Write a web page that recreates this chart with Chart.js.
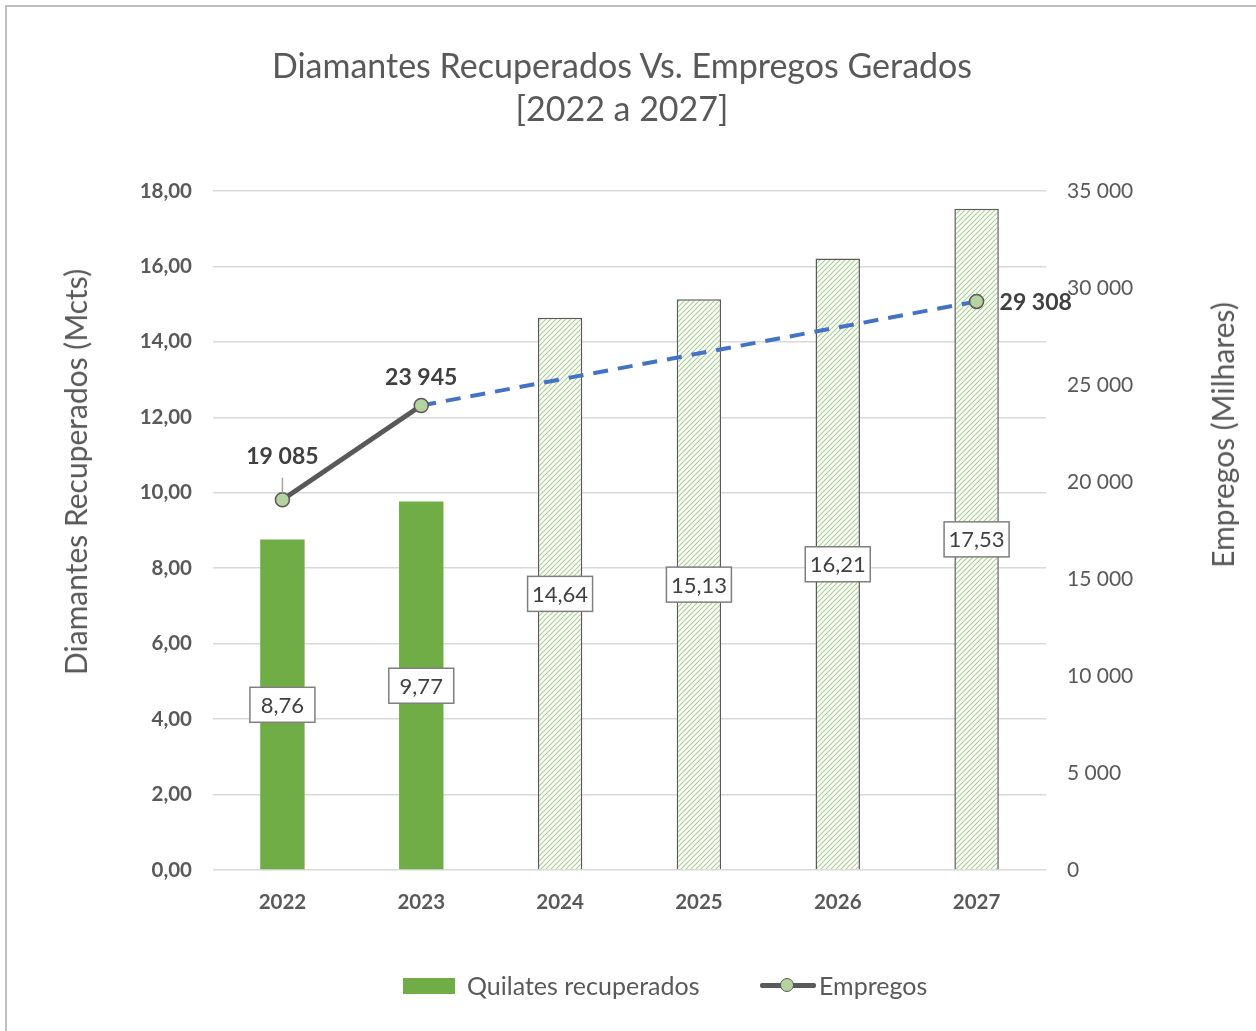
<!DOCTYPE html>
<html>
<head>
<meta charset="utf-8">
<script src="https://cdn.jsdelivr.net/npm/chart.js@4"></script>
<style>
  html, body { margin: 0; padding: 0; background: #fff; }
  body { width: 1256px; height: 1031px; overflow: hidden; position: relative; font-family: Lato, "Open Sans", sans-serif; color: #595959; }
  #frame { position: absolute; left: 5px; top: 5px; width: 1300px; height: 1100px; border: 2px solid #bfbfbf; }
  #c { position: absolute; left: 0; top: 0; }
  .title { position: absolute; left: 0; width: 1244px; text-align: center; font-size: 34px; line-height: 44px; }
  .ytitle { position: absolute; font-size: 30px; white-space: nowrap; transform: translate(-50%, -50%) rotate(-90deg); }
  .legend { position: absolute; top: 970px; font-size: 25px; line-height: 30px; white-space: nowrap; }
  .sw { position: absolute; }
</style>
</head>
<body>
<div id="frame"></div>
<canvas id="c" width="1256" height="1031"></canvas>
<div class="title" style="top:43px">Diamantes Recuperados Vs. Empregos Gerados</div>
<div class="title" style="top:86px">[2022 a 2027]</div>
<div class="ytitle" style="left:75px; top:472px">Diamantes Recuperados (Mcts)</div>
<div class="ytitle" style="left:1222px; top:435px">Empregos (Milhares)</div>
<div class="legend" style="left:403px">
  <span class="sw" style="left:0; top:8px; width:52px; height:16px; background:#70ad47"></span>
  <span style="position:absolute; left:64px; top:0">Quilates recuperados</span>
</div>
<div class="legend" style="left:760px">
  <span class="sw" style="left:0; top:13px; width:56px; height:5px; background:#595959; border-radius:2px"></span>
  <span class="sw" style="left:20px; top:8px; width:12px; height:12px; border-radius:50%; background:#b5d3a0; border:1.5px solid #595959"></span>
  <span style="position:absolute; left:59px; top:0">Empregos</span>
</div>
<script>
"use strict";

const YEARS = ["2022", "2023", "2024", "2025", "2026", "2027"];
const QUILATES = [8.76, 9.77, 14.64, 15.13, 16.21, 17.53];
const EMPREGOS = [19085, 23945, null, null, null, 29308];
const ACTUAL_COUNT = 2; // 2022-2023 real, rest projected

const GREEN = "#70ad47", GRAY = "#595959", BLUE = "#4472c4", GRID = "#d9d9d9";
const FAMILY = "Lato, 'Open Sans', sans-serif";

function hatch() {
  const p = document.createElement("canvas");
  p.width = 5; p.height = 5;
  const g = p.getContext("2d");
  g.fillStyle = "#fff"; g.fillRect(0, 0, 5, 5);
  g.strokeStyle = "#a9d18e"; g.lineWidth = 1.2;
  g.beginPath();
  g.moveTo(-1, 6); g.lineTo(6, -1);
  g.moveTo(-1, 1); g.lineTo(1, -1);
  g.moveTo(4, 6); g.lineTo(6, 4);
  g.stroke();
  return g.createPattern(p, "repeat");
}
const pattern = hatch();

const fmtDec = (v) => v.toFixed(2).replace(".", ",");
const fmtThousands = (v) => String(Math.round(v)).replace(/\B(?=(\d{3})+(?!\d))/g, " ");

const labelsPlugin = {
  id: "labels",
  afterDatasetsDraw(chart) {
    const ctx = chart.ctx;
    const yScale = chart.scales.y;
    // bar value boxes, centred on each bar
    chart.getDatasetMeta(1).data.forEach((bar, i) => {
      const cx = bar.x, cy = yScale.getPixelForValue(QUILATES[i] / 2);
      const w = 65, h = 35;
      ctx.save();
      ctx.fillStyle = "#fff";
      ctx.fillRect(cx - w / 2, cy - h / 2, w, h);
      ctx.strokeStyle = "#7f7f7f"; ctx.lineWidth = 1.5;
      ctx.strokeRect(cx - w / 2, cy - h / 2, w, h);
      ctx.fillStyle = "#404040";
      ctx.font = "22px " + FAMILY;
      ctx.textAlign = "center"; ctx.textBaseline = "middle";
      ctx.fillText(fmtDec(QUILATES[i]), cx, cy + 1);
      ctx.restore();
    });
    // line value labels
    const pts = chart.getDatasetMeta(0).data;
    ctx.save();
    ctx.fillStyle = "#404040";
    ctx.font = "bold 23px " + FAMILY;
    ctx.textBaseline = "middle";
    EMPREGOS.forEach((v, i) => {
      if (v === null) return;
      const p = pts[i];
      if (i === 0) {
        ctx.textAlign = "center";
        ctx.fillText(fmtThousands(v), p.x, p.y - 43);
        ctx.strokeStyle = "#a6a6a6"; ctx.lineWidth = 1.5;
        ctx.beginPath(); ctx.moveTo(p.x, p.y - 22); ctx.lineTo(p.x, p.y - 7); ctx.stroke();
      } else if (i === YEARS.length - 1) {
        ctx.textAlign = "left";
        ctx.fillText(fmtThousands(v), p.x + 23, p.y + 1);
      } else {
        ctx.textAlign = "center";
        ctx.fillText(fmtThousands(v), p.x, p.y - 28);
      }
    });
    ctx.restore();
  },
};

const tickFont = { family: FAMILY, size: 20.5, weight: "bold" };

new Chart(document.getElementById("c"), {
  data: {
    labels: YEARS,
    datasets: [
      {
        type: "line", label: "Empregos", data: EMPREGOS, yAxisID: "y1", order: 0,
        spanGaps: true, borderColor: GRAY, borderWidth: 5, tension: 0,
        pointRadius: 7, pointBackgroundColor: "#b5d3a0", pointBorderColor: GRAY, pointBorderWidth: 1.5,
        segment: {
          borderColor: (c) => c.p0DataIndex >= ACTUAL_COUNT - 1 ? BLUE : undefined,
          borderDash: (c) => c.p0DataIndex >= ACTUAL_COUNT - 1 ? [15, 10] : undefined,
          borderWidth: (c) => c.p0DataIndex >= ACTUAL_COUNT - 1 ? 4 : undefined,
        },
      },
      {
        type: "bar", label: "Quilates recuperados", data: QUILATES, yAxisID: "y", order: 1,
        backgroundColor: QUILATES.map((_, i) => i < ACTUAL_COUNT ? GREEN : pattern),
        borderColor: QUILATES.map((_, i) => i < ACTUAL_COUNT ? GREEN : GRAY),
        borderWidth: QUILATES.map((_, i) => i < ACTUAL_COUNT ? 0 : 1.5),
        barPercentage: 0.32, categoryPercentage: 1,
      },
    ],
  },
  options: {
    responsive: false, animation: false, devicePixelRatio: 1,
    layout: { padding: { top: 191, left: 0, right: 0, bottom: 0 } },
    plugins: { legend: { display: false }, title: { display: false }, tooltip: { enabled: false } },
    scales: {
      x: {
        grid: { display: false }, border: { display: false },
        ticks: { color: GRAY, font: tickFont, padding: 12 },
        afterFit: (s) => { s.height = 161; },
      },
      y: {
        position: "left", min: 0, max: 18,
        ticks: { stepSize: 2, color: GRAY, font: tickFont, padding: 21, callback: (v) => fmtDec(v) },
        grid: { color: GRID, lineWidth: 1.5, drawTicks: false }, border: { display: false },
        afterFit: (s) => { s.width = 213; },
      },
      y1: {
        position: "right", min: 0, max: 35000,
        ticks: { stepSize: 5000, color: GRAY, font: { family: FAMILY, size: 21 }, padding: 21, callback: (v) => fmtThousands(v) },
        grid: { display: false, drawTicks: false }, border: { display: false },
        afterFit: (s) => { s.width = 210; },
      },
    },
  },
  plugins: [labelsPlugin],
});
</script>
</body>
</html>
